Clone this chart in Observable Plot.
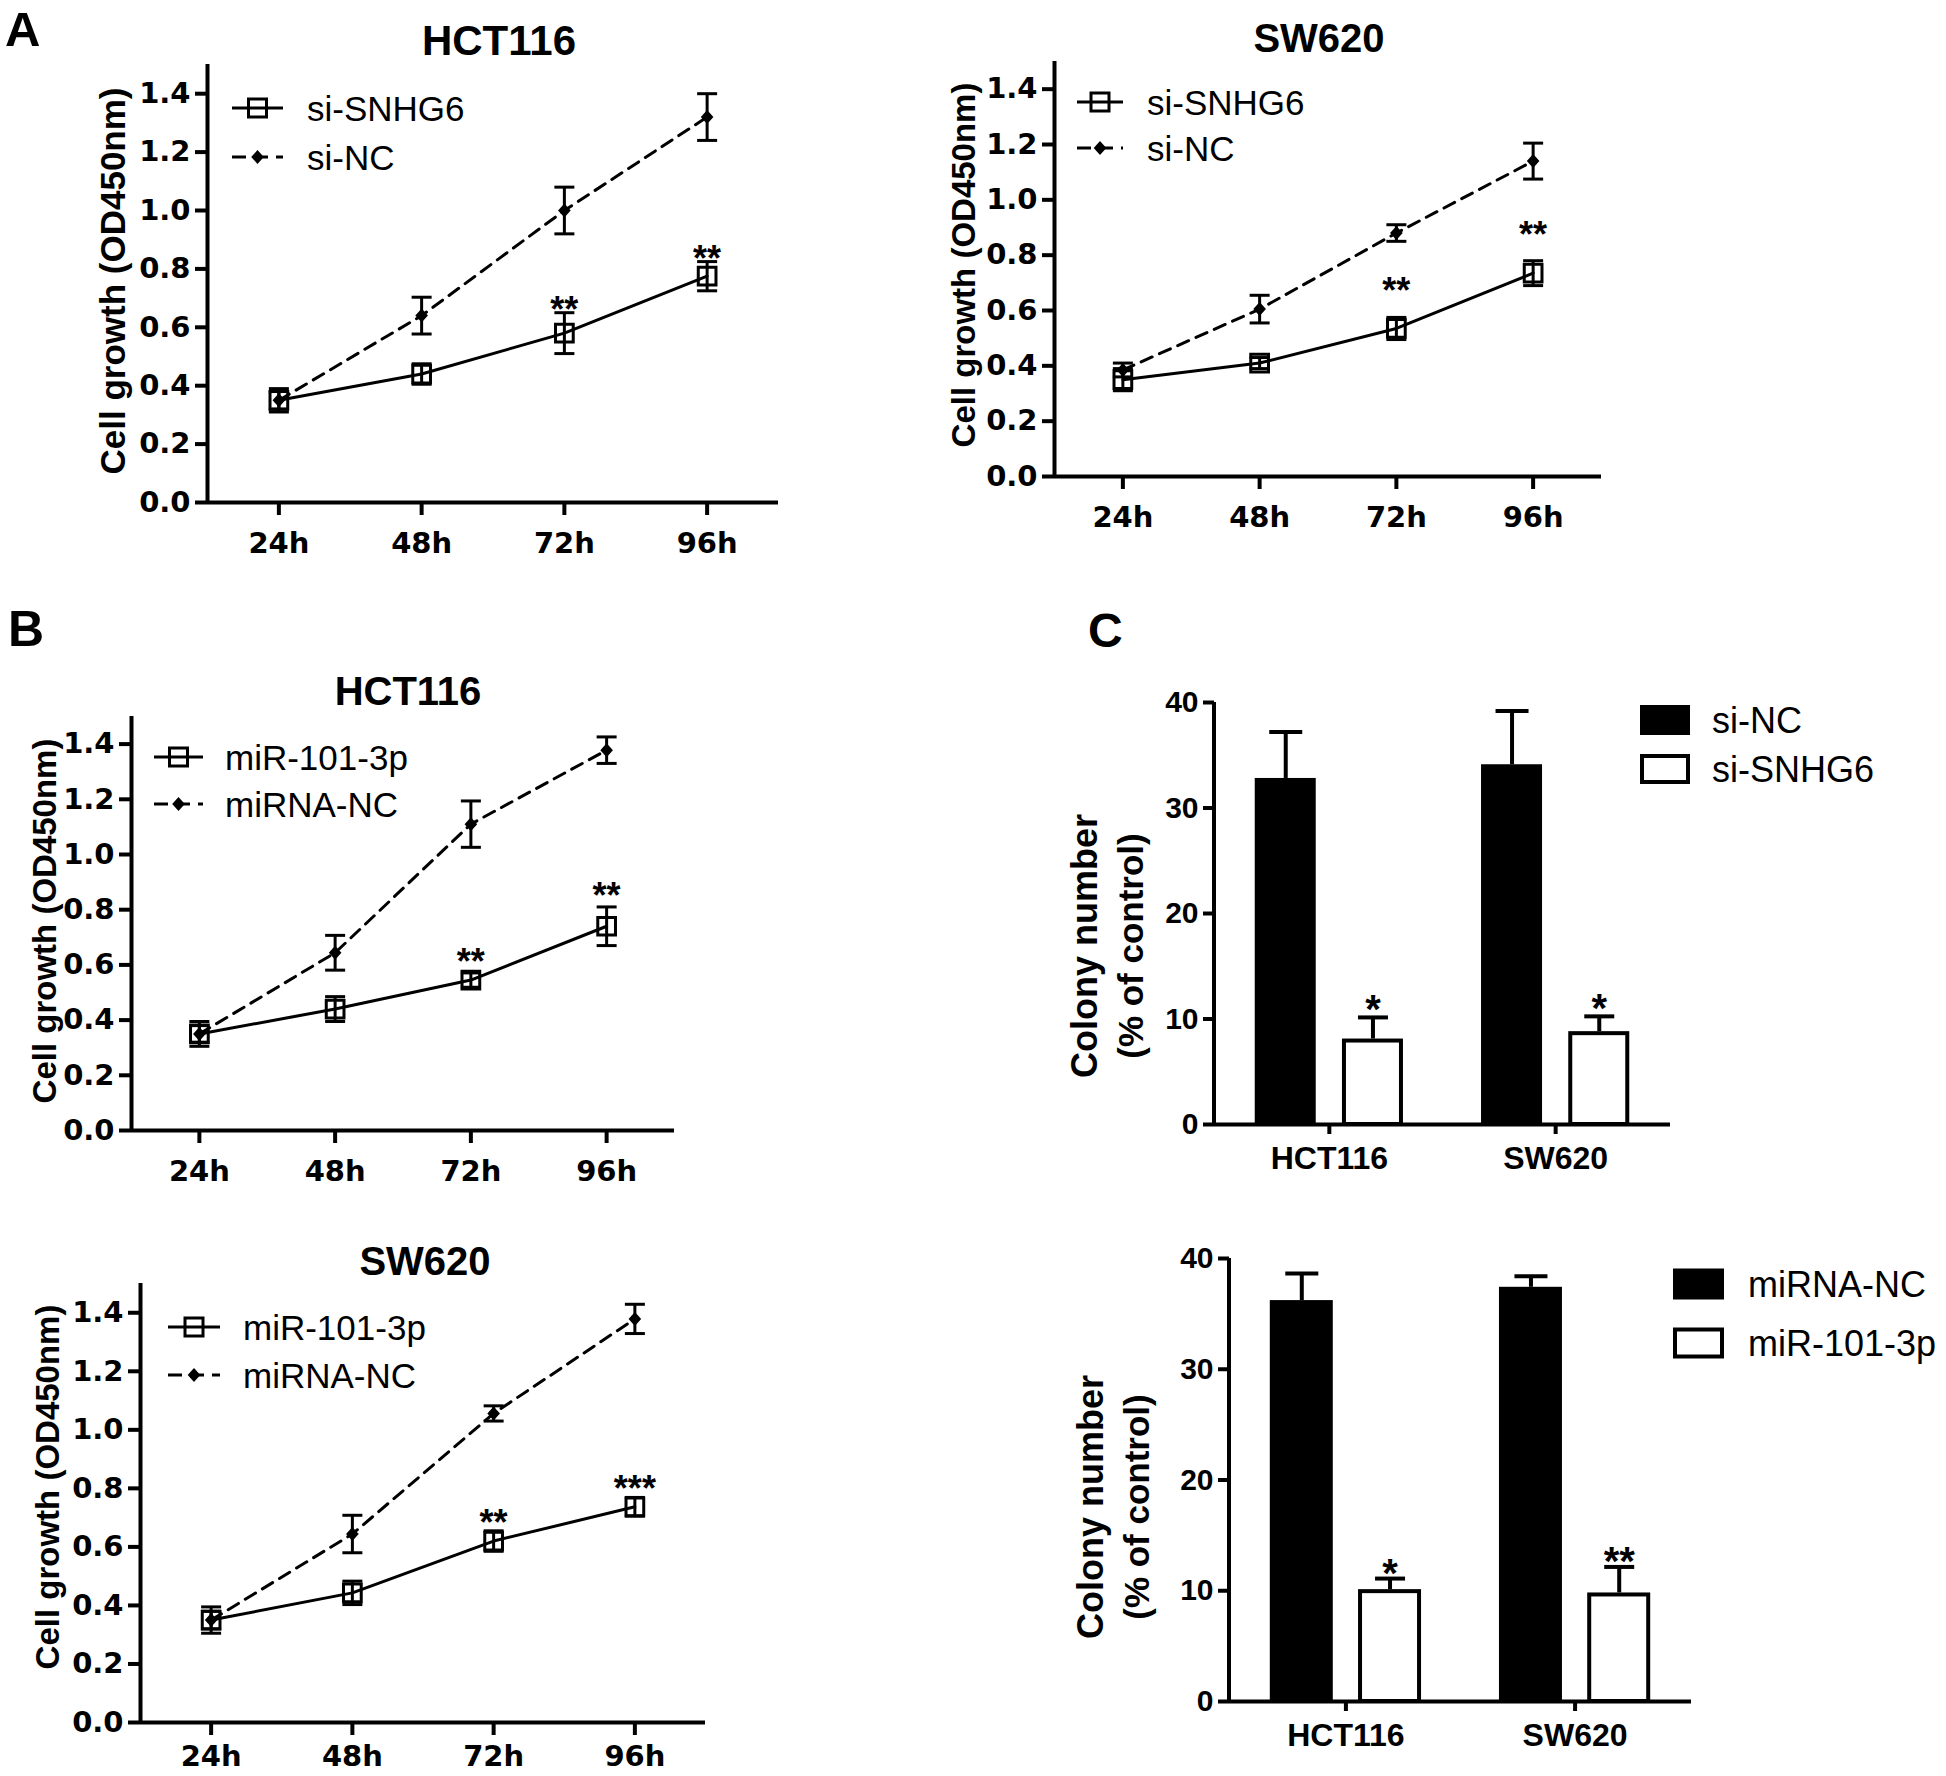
<!DOCTYPE html>
<html><head><meta charset="utf-8">
<script src="https://cdn.jsdelivr.net/npm/d3@7"></script>
<script src="https://cdn.jsdelivr.net/npm/@observablehq/plot@0.6"></script>
<style>
html,body{margin:0;padding:0;background:#fff;}
#page{position:relative;width:1946px;height:1776px;overflow:hidden;background:#fff;}
.panel{position:absolute;}
#overlay{position:absolute;left:0;top:0;pointer-events:none;}
</style></head>
<body><div id="page"></div>
<script>
// ---------------- data ----------------
const timepoints = ["24h", "48h", "72h", "96h"];
const lineYTicks = [0, 0.2, 0.4, 0.6, 0.8, 1.0, 1.2, 1.4];

// Panel A — HCT116 (si-SNHG6 vs si-NC)
const aHctSiSNHG6 = [0.35, 0.44, 0.58, 0.775];
const aHctSiSNHG6Err = [0.04, 0.035, 0.07, 0.05];
const aHctSiNC = [0.35, 0.64, 1.00, 1.32];
const aHctSiNCErr = [0.03, 0.063, 0.08, 0.08];
const aHctStars = ["", "", "**", "**"];

// Panel A — SW620
const aSwSiSNHG6 = [0.35, 0.41, 0.535, 0.735];
const aSwSiSNHG6Err = [0.04, 0.02, 0.04, 0.045];
const aSwSiNC = [0.385, 0.605, 0.88, 1.14];
const aSwSiNCErr = [0.025, 0.05, 0.03, 0.065];
const aSwStars = ["", "", "**", "**"];

// Panel B — HCT116 (miR-101-3p vs miRNA-NC)
const bHctMiR101 = [0.35, 0.44, 0.545, 0.74];
const bHctMiR101Err = [0.045, 0.045, 0.026, 0.07];
const bHctMiRNANC = [0.35, 0.644, 1.11, 1.378];
const bHctMiRNANCErr = [0.03, 0.063, 0.084, 0.048];
const bHctStars = ["", "", "**", "**"];

// Panel B — SW620
const bSwMiR101 = [0.35, 0.443, 0.62, 0.737];
const bSwMiR101Err = [0.045, 0.04, 0.035, 0.032];
const bSwMiRNANC = [0.35, 0.644, 1.056, 1.379];
const bSwMiRNANCErr = [0.03, 0.064, 0.026, 0.05];
const bSwStars = ["", "", "**", "***"];

// Panel C — colony formation
const cellLines = ["HCT116", "SW620"];
const barYTicks = [0, 10, 20, 30, 40];
const cTopSiNC = [32.8, 34.1];
const cTopSiNCErr = [4.4, 5.1];
const cTopSiSNHG6 = [8.1, 8.8];
const cTopSiSNHG6Err = [2.05, 1.45];
const cTopStars = ["*", "*"];
const cBotMiRNANC = [36.2, 37.4];
const cBotMiRNANCErr = [2.45, 1.0];
const cBotMiR101 = [10.1, 9.8];
const cBotMiR101Err = [1.0, 2.35];
const cBotStars = ["*", "**"];

// ---------------- helpers ----------------
const SANS = "'Liberation Sans', Arial, Helvetica, sans-serif";
const WIDE = "'DejaVu Sans', Verdana, sans-serif";
const page = document.getElementById("page");

const capSymbol = {draw(ctx, size) { const r = Math.sqrt(size / Math.PI); ctx.moveTo(-r, 0); ctx.lineTo(r, 0); }};
const diamondSymbol = {draw(ctx, size) { const r = Math.sqrt(size / Math.PI); ctx.moveTo(0, -r); ctx.lineTo(r * 0.9, 0); ctx.lineTo(0, r); ctx.lineTo(-r * 0.9, 0); ctx.closePath(); }};

function place(node, left, top) {
  const d = document.createElement("div");
  d.className = "panel";
  d.style.left = left + "px";
  d.style.top = top + "px";
  d.appendChild(node);
  page.appendChild(d);
}

function lineRows(values, errs, stars) {
  return values.map((v, i) => ({t: i + 1, time: timepoints[i], v, e: errs[i], star: stars ? stars[i] : ""}));
}

function lineChart({frame: [x0, x1, yTop, yBottom], solid, dashed, starDy, xTickPadding = 17}) {
  const mL = 110, mT = 20, mR = 20, mB = 52;
  const errMarks = (d) => [
    Plot.ruleX(d, {x: "t", y1: r => r.v - r.e, y2: r => r.v + r.e, stroke: "black", strokeWidth: 3}),
    Plot.dot(d, {x: "t", y: r => r.v + r.e, symbol: capSymbol, r: 10, fill: "none", stroke: "black", strokeWidth: 3}),
    Plot.dot(d, {x: "t", y: r => r.v - r.e, symbol: capSymbol, r: 10, fill: "none", stroke: "black", strokeWidth: 3})
  ];
  const chart = Plot.plot({
    width: mL + (x1 - x0) + mR,
    height: mT + (yBottom - yTop) + mB,
    marginLeft: mL, marginTop: mT, marginRight: mR, marginBottom: mB,
    style: {color: "black", background: "transparent", overflow: "visible"},
    x: {type: "linear", domain: [0.5, 4.5]},
    y: {type: "linear", domain: [0, 1.5]},
    marks: [
      Plot.ruleY([0], {stroke: "black", strokeWidth: 4}),
      Plot.ruleX([0.5], {stroke: "black", strokeWidth: 4}),
      Plot.axisY({ticks: lineYTicks, tickFormat: d3.format(".1f"), tickSize: 12, tickPadding: 5, stroke: "black", strokeWidth: 4, fontSize: 29, fontWeight: "bold", fontFamily: WIDE, label: null}),
      Plot.axisX({ticks: [1, 2, 3, 4], tickFormat: i => timepoints[i - 1], tickSize: 13, tickPadding: xTickPadding, stroke: "black", strokeWidth: 4, fontSize: 29, fontWeight: "bold", fontFamily: WIDE, label: null}),
      Plot.line(dashed, {x: "t", y: "v", stroke: "black", strokeWidth: 3, strokeDasharray: "12,8"}),
      Plot.line(solid, {x: "t", y: "v", stroke: "black", strokeWidth: 3}),
      ...errMarks(dashed),
      ...errMarks(solid),
      Plot.dot(solid, {x: "t", y: "v", symbol: "square", r: 10, fill: "none", stroke: "black", strokeWidth: 3}),
      Plot.dot(dashed, {x: "t", y: "v", symbol: diamondSymbol, r: 7, fill: "black", stroke: "none"}),
      Plot.text(solid.filter(r => r.star), {x: "t", y: r => r.v + r.e, text: "star", lineAnchor: "bottom", dy: starDy, fontSize: 36, fontWeight: "bold", fontFamily: SANS, fill: "black"})
    ]
  });
  place(chart, x0 - mL, yTop - mT);
}

function barRows(values, errs, stars) {
  return values.map((v, i) => ({cell: cellLines[i], v, e: errs[i], star: stars ? stars[i] : ""}));
}

function yAxisLine() {
  return (index, scales, values, dims) => {
    const line = document.createElementNS("http://www.w3.org/2000/svg", "line");
    const x = dims.marginLeft;
    line.setAttribute("x1", x); line.setAttribute("x2", x);
    line.setAttribute("y1", dims.marginTop);
    line.setAttribute("y2", dims.height - dims.marginBottom);
    line.setAttribute("stroke", "black");
    line.setAttribute("stroke-width", 4);
    return line;
  };
}

function barChart({frame: [x0, x1, yTop, yBottom], ctrl, treat, paddingInner, paddingOuter, barW, capCtrl, capTreat, starDy}) {
  const mL = 90, mT = 20, mR = 20, mB = 70;
  const range = x1 - x0;
  const step = range / (cellLines.length - paddingInner + 2 * paddingOuter);
  const bw = step * (1 - paddingInner);
  const inset = bw - barW;
  const off = inset / 2;
  const chart = Plot.plot({
    width: mL + range + mR,
    height: mT + (yBottom - yTop) + mB,
    marginLeft: mL, marginTop: mT, marginRight: mR, marginBottom: mB,
    style: {color: "black", background: "transparent", overflow: "visible"},
    x: {type: "band", domain: cellLines, paddingInner, paddingOuter, round: false},
    y: {type: "linear", domain: [0, 40]},
    marks: [
      Plot.barY(ctrl, {x: "cell", y: "v", fill: "black", insetRight: inset}),
      Plot.barY(treat, {x: "cell", y: "v", fill: "white", stroke: "black", strokeWidth: 4, insetLeft: inset + 2, insetRight: 2, insetTop: 2}),
      Plot.ruleX(ctrl, {x: "cell", y1: "v", y2: r => r.v + r.e, dx: -off, stroke: "black", strokeWidth: 4}),
      Plot.dot(ctrl, {x: "cell", y: r => r.v + r.e, dx: -off, symbol: capSymbol, r: capCtrl, fill: "none", stroke: "black", strokeWidth: 4}),
      Plot.ruleX(treat, {x: "cell", y1: "v", y2: r => r.v + r.e, dx: off, stroke: "black", strokeWidth: 4}),
      Plot.dot(treat, {x: "cell", y: r => r.v + r.e, dx: off, symbol: capSymbol, r: capTreat, fill: "none", stroke: "black", strokeWidth: 4}),
      Plot.text(treat.filter(r => r.star), {x: "cell", y: r => r.v + r.e, text: "star", dx: off, lineAnchor: "bottom", dy: starDy, fontSize: 40, fontWeight: "bold", fontFamily: SANS, fill: "black"}),
      Plot.ruleY([0], {stroke: "black", strokeWidth: 4}),
      yAxisLine(),
      Plot.axisY({ticks: barYTicks, tickSize: 11, tickPadding: 5, stroke: "black", strokeWidth: 4, fontSize: 30, fontWeight: "bold", fontFamily: SANS, label: null}),
      Plot.axisX({tickSize: 10, tickPadding: 12, stroke: "black", strokeWidth: 4, fontSize: 32, fontWeight: "bold", fontFamily: SANS, label: null})
    ]
  });
  place(chart, x0 - mL, yTop - mT);
}

// ---------------- charts ----------------
lineChart({frame: [207, 778, 64, 502], solid: lineRows(aHctSiSNHG6, aHctSiSNHG6Err, aHctStars), dashed: lineRows(aHctSiNC, aHctSiNCErr), starDy: 9});
lineChart({frame: [1054, 1601, 61, 476], solid: lineRows(aSwSiSNHG6, aSwSiSNHG6Err, aSwStars), dashed: lineRows(aSwSiNC, aSwSiNCErr), starDy: -14});
lineChart({frame: [131, 674, 716, 1130], solid: lineRows(bHctMiR101, bHctMiR101Err, bHctStars), dashed: lineRows(bHctMiRNANC, bHctMiRNANCErr), starDy: 1});
lineChart({frame: [140, 705, 1283, 1722], solid: lineRows(bSwMiR101, bSwMiR101Err, bSwStars), dashed: lineRows(bSwMiRNANC, bSwMiRNANCErr), starDy: 4, xTickPadding: 10});

barChart({frame: [1214, 1670, 702, 1124], ctrl: barRows(cTopSiNC, cTopSiNCErr), treat: barRows(cTopSiSNHG6, cTopSiSNHG6Err, cTopStars), paddingInner: 0.345, paddingOuter: 0.18, barW: 61, capCtrl: 16.5, capTreat: 15, starDy: 6});
barChart({frame: [1229, 1691, 1258, 1701], ctrl: barRows(cBotMiRNANC, cBotMiRNANCErr), treat: barRows(cBotMiR101, cBotMiR101Err, cBotStars), paddingInner: 0.34, paddingOuter: 0.178, barW: 63, capCtrl: 16.5, capTreat: 15, starDy: 8});

// ---------------- overlay text: titles, labels, legends ----------------
const ov = d3.select(page).append("svg").attr("id", "overlay").attr("width", 1946).attr("height", 1776);

function text(x, y, s, {size = 36, weight = "bold", anchor = "start", family = SANS, rotate = 0, dy = null} = {}) {
  const t = ov.append("text").attr("font-family", family).attr("font-size", size).attr("font-weight", weight)
    .attr("text-anchor", anchor).attr("fill", "black").text(s);
  if (rotate) t.attr("transform", `translate(${x},${y}) rotate(${rotate})`);
  else t.attr("x", x).attr("y", y);
  if (dy != null) t.attr("dy", dy);
  return t;
}

// panel letters
text(5, 46, "A", {size: 49});
text(8, 646, "B", {size: 50});
text(1088, 647, "C", {size: 48});

// titles
text(499, 55, "HCT116", {size: 42, anchor: "middle"});
text(1319, 52, "SW620", {size: 40, anchor: "middle"});
text(408, 705, "HCT116", {size: 40, anchor: "middle"});
text(425, 1275, "SW620", {size: 40, anchor: "middle"});

// y-axis titles
const yLineTitle = "Cell growth (OD450nm)";
text(112, 281, yLineTitle, {size: 35, anchor: "middle", rotate: -90, dy: "0.36em"});
text(963, 265, yLineTitle, {size: 33, anchor: "middle", rotate: -90, dy: "0.36em"});
text(44, 921, yLineTitle, {size: 33, anchor: "middle", rotate: -90, dy: "0.36em"});
text(47, 1487, yLineTitle, {size: 33, anchor: "middle", rotate: -90, dy: "0.36em"});
const yBarTitle = ["Colony number", "(% of control)"];
text(1084, 946, yBarTitle[0], {size: 36, anchor: "middle", rotate: -90, dy: "0.36em"});
text(1130, 946, yBarTitle[1], {size: 35, anchor: "middle", rotate: -90, dy: "0.36em"});
text(1090, 1507, yBarTitle[0], {size: 36, anchor: "middle", rotate: -90, dy: "0.36em"});
text(1136, 1507, yBarTitle[1], {size: 35, anchor: "middle", rotate: -90, dy: "0.36em"});

// line-chart legends
function lineLegend(xa, xb, rowsY, textX, labels) {
  const cx = (xa + xb) / 2;
  // solid + open square
  ov.append("line").attr("x1", xa).attr("x2", xb).attr("y1", rowsY[0]).attr("y2", rowsY[0]).attr("stroke", "black").attr("stroke-width", 3);
  ov.append("rect").attr("x", cx - 9).attr("y", rowsY[0] - 9).attr("width", 18).attr("height", 18).attr("fill", "none").attr("stroke", "black").attr("stroke-width", 3);
  // dashed + diamond
  ov.append("line").attr("x1", xa).attr("x2", xb).attr("y1", rowsY[1]).attr("y2", rowsY[1]).attr("stroke", "black").attr("stroke-width", 3).attr("stroke-dasharray", "14,8");
  ov.append("path").attr("d", `M${cx},${rowsY[1] - 7}L${cx + 6.3},${rowsY[1]}L${cx},${rowsY[1] + 7}L${cx - 6.3},${rowsY[1]}Z`).attr("fill", "black");
  text(textX, rowsY[0], labels[0], {size: 35, weight: "normal", dy: "0.36em"});
  text(textX, rowsY[1], labels[1], {size: 35, weight: "normal", dy: "0.36em"});
}
lineLegend(232, 283, [108, 157], 307, ["si-SNHG6", "si-NC"]);
lineLegend(1077, 1123, [102, 148], 1147, ["si-SNHG6", "si-NC"]);
lineLegend(154, 203, [757, 804], 225, ["miR-101-3p", "miRNA-NC"]);
lineLegend(168, 220, [1327, 1375], 243, ["miR-101-3p", "miRNA-NC"]);

// bar-chart legends
function barLegend(x, rowsY, w, h, textX, labels) {
  ov.append("rect").attr("x", x).attr("y", rowsY[0] - h / 2).attr("width", w).attr("height", h).attr("fill", "black");
  ov.append("rect").attr("x", x + 2).attr("y", rowsY[1] - h / 2 + 2).attr("width", w - 4).attr("height", h - 4).attr("fill", "white").attr("stroke", "black").attr("stroke-width", 4);
  text(textX, rowsY[0], labels[0], {size: 36, weight: "normal", dy: "0.36em"});
  text(textX, rowsY[1], labels[1], {size: 36, weight: "normal", dy: "0.36em"});
}
barLegend(1640, [720, 769], 50, 30, 1712, ["si-NC", "si-SNHG6"]);
barLegend(1673, [1284, 1343], 51, 31, 1748, ["miRNA-NC", "miR-101-3p"]);
</script>
</body></html>
